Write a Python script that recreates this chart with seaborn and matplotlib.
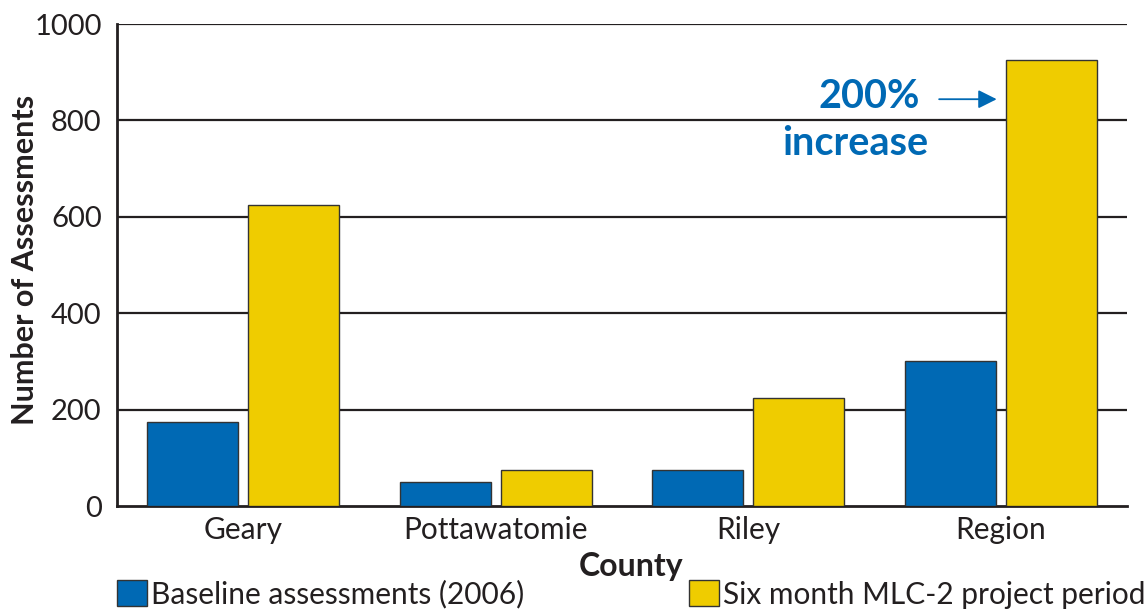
import numpy as np
import pandas as pd
import seaborn as sns
from matplotlib import pyplot as plt
from matplotlib.patches import Patch
from matplotlib.ticker import FixedLocator

sns.set_style("white")
plt.rcParams['font.family'] = ['Lato', 'DejaVu Sans']

# ---------------- data
counties = ["Geary", "Pottawatomie", "Riley", "Region"]
baseline = [175, 50, 75, 300]
project = [625, 75, 225, 925]
series_names = ["Baseline assessments (2006)", "Six month MLC-2 project period"]
yticks = [0, 200, 400, 600, 800, 1000]

blue = "#0069b4"
yellow = "#efcc00"
ink = "#231f20"

df = pd.DataFrame({
    "county": counties * 2,
    "count": baseline + project,
    "series": [series_names[0]] * len(counties) + [series_names[1]] * len(counties),
})

fh = plt.figure(figsize=(11.48, 6.11), dpi=100)
ah = fh.add_axes([0.1019, 0.1718, 0.8798, 0.7889])

sns.barplot(data=df, x="county", y="count", hue="series", order=counties,
            hue_order=series_names, palette=[blue, yellow], saturation=1,
            width=0.8, gap=0.1, edgecolor="#333333", linewidth=1.0, ax=ah,
            legend=False, zorder=3)

# horizontal grid lines
for v in yticks[1:]:
    ah.axhline(v, color=ink, lw=1.6, zorder=1)

ah.set_xlim(-0.5, len(counties) - 0.5)
ah.set_ylim(0, 1000)
ah.set_yticks(yticks)
ah.spines["right"].set_visible(False)
ah.spines["top"].set_visible(False)
for s in ["left", "bottom"]:
    ah.spines[s].set_linewidth(2)
    ah.spines[s].set_color(ink)
ah.tick_params(axis='y', length=0, labelsize=21, labelcolor=ink, pad=11)
ah.tick_params(axis='x', which='major', length=0, labelsize=21.5, labelcolor=ink, pad=7)
ah.xaxis.set_minor_locator(FixedLocator(np.arange(-0.5, len(counties), 1.0)))
ah.tick_params(axis='x', which='minor', direction='in', length=8, width=2, color=ink)

ah.set_xlabel("County", fontsize=23, fontweight="bold", color=ink)
ah.xaxis.set_label_coords(0.509, -0.095)
ah.set_ylabel("Number of Assessments", fontsize=22, fontweight="bold", color=ink)
ah.yaxis.set_label_coords(-0.077, 0.51)

# annotation
ah.annotate("", xy=(2.995, 844), xytext=(2.745, 844),
            arrowprops=dict(arrowstyle="-|>", color=blue, lw=1.3, mutation_scale=28),
            zorder=4)
ah.text(2.68, 849, "200%", color=blue, fontsize=28.5, fontweight="bold",
        ha="right", va="center")
ah.text(2.712, 753, "increase", color=blue, fontsize=28.5, fontweight="bold",
        ha="right", va="center")

# legend
handles = [Patch(facecolor=blue, edgecolor="#333333", lw=1.0),
           Patch(facecolor=yellow, edgecolor="#333333", lw=1.0)]
ah.legend(handles, series_names, ncol=2, loc="center left",
          bbox_to_anchor=(0.0, -0.183), frameon=False, fontsize=21.5,
          handlelength=1.0, handleheight=0.95, handletextpad=0.15,
          columnspacing=5.5, borderaxespad=0, borderpad=0,
          labelcolor=ink)

fh.savefig("out.png", dpi=100)
